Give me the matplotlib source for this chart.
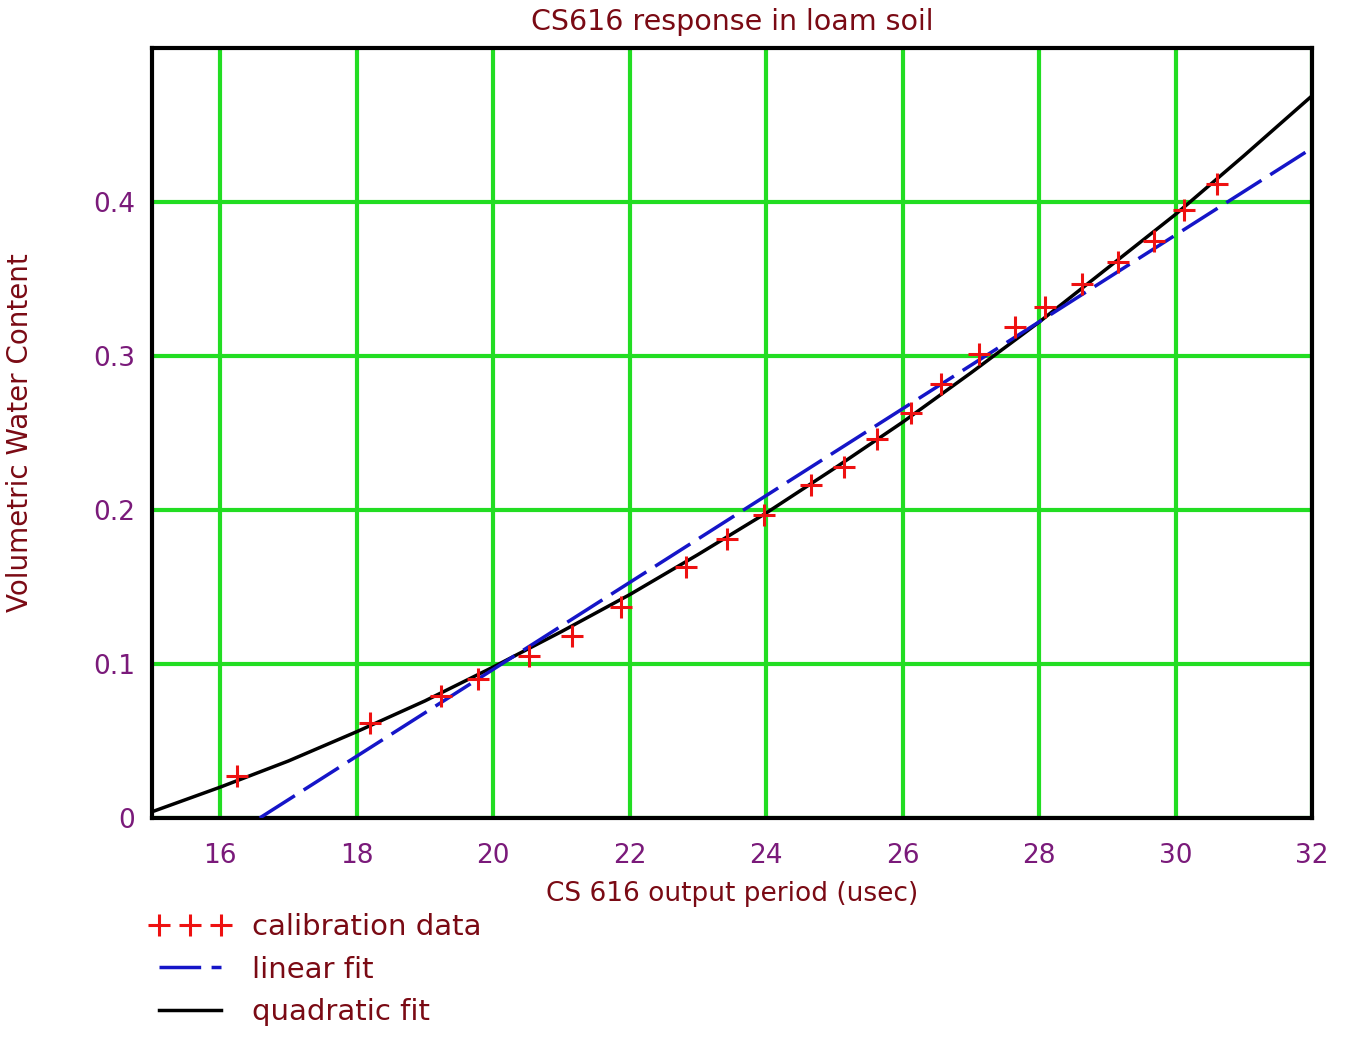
import matplotlib
matplotlib.use("Agg")
import matplotlib.pyplot as plt

# calibration data
period = [16.25, 18.2, 19.23, 19.78, 20.52, 21.15, 21.88, 22.82, 23.43, 23.97,
          24.66, 25.14, 25.62, 26.12, 26.57, 27.12, 27.65, 28.09, 28.63, 29.15,
          29.69, 30.13, 30.61]
vwc = [0.027, 0.062, 0.079, 0.090, 0.105, 0.118, 0.137, 0.163, 0.181, 0.197,
       0.216, 0.228, 0.246, 0.263, 0.282, 0.301, 0.319, 0.332, 0.347, 0.361,
       0.375, 0.395, 0.412]

# linear fit (end points)
lin_x = [16.58, 32.0]
lin_y = [0.0, 0.435]

# quadratic fit
quad_x = [15, 16, 17, 18, 19, 20, 21, 22, 23, 24, 25, 26, 27, 28, 29, 30, 31, 32]
quad_y = [0.004, 0.020, 0.037, 0.056, 0.076, 0.098, 0.121, 0.145, 0.171, 0.198,
          0.227, 0.257, 0.289, 0.322, 0.357, 0.392, 0.430, 0.469]

xticks = [16, 18, 20, 22, 24, 26, 28, 30, 32]
yticks = [0, 0.1, 0.2, 0.3, 0.4]
yticklabels = ["0", "0.1", "0.2", "0.3", "0.4"]

maroon = "#7a0a14"
purple = "#7a1a7a"
green = "#22dd22"

fig = plt.figure(figsize=(13.56, 10.37), dpi=100)
ax = fig.add_axes([0.112, 0.2112, 0.8556, 0.7425])

ax.set_xlim(15, 32)
ax.set_ylim(0, 0.5)
ax.set_xticks(xticks)
ax.set_yticks(yticks)
ax.set_yticklabels(yticklabels)
ax.grid(True, color=green, linewidth=3)
ax.set_axisbelow(True)
ax.tick_params(length=0, labelsize=19, labelcolor=purple)
ax.tick_params(axis="x", pad=18)
ax.tick_params(axis="y", pad=12)
for s in ax.spines.values():
    s.set_linewidth(3)
    s.set_color("black")

quad_line, = ax.plot(quad_x, quad_y, color="black", linewidth=2.5, zorder=3)
lin_line, = ax.plot(lin_x, lin_y, color="#1515c8", linewidth=2.5,
                    dashes=(12, 3), zorder=3)
pts, = ax.plot(period, vwc, linestyle="none", marker="+", color="#ee1111",
               markersize=16, markeredgewidth=2.2, zorder=4)

ax.set_title("CS616 response in loam soil", color=maroon, fontsize=20.5, pad=13)
ax.set_xlabel("CS 616 output period (usec)", color=maroon, fontsize=19, labelpad=9)
ax.set_ylabel("Volumetric Water Content", color=maroon, fontsize=20)
ax.yaxis.set_label_coords(-0.102, 0.5)

fig.legend([pts, lin_line, quad_line],
           ["calibration data", "linear fit", "quadratic fit"],
           loc="upper left", bbox_to_anchor=(0.1106, 0.1195), frameon=False,
           borderpad=0, borderaxespad=0,
           numpoints=3, handlelength=2.75, fontsize=21, labelcolor=maroon,
           labelspacing=0.5, handletextpad=0.76)

fig.savefig("out.png", dpi=100)
